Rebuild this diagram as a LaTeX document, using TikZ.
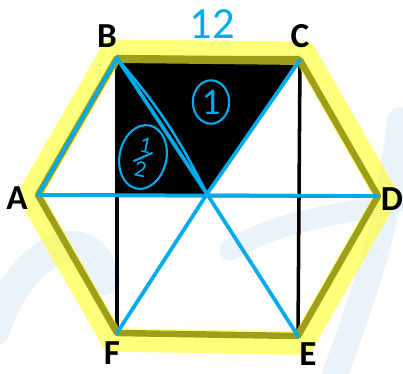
\documentclass[tikz,border=0pt]{standalone}
\usepackage{fontspec}
\setsansfont{Carlito}
\usetikzlibrary{calc,shapes.geometric}
\definecolor{pen}{RGB}{0,171,236}
\definecolor{hilite}{RGB}{255,255,40}
\definecolor{wash}{RGB}{234,243,250}
\tikzset{vlab/.style={font=\sffamily\bfseries\fontsize{30}{30}\selectfont},
  hand/.style={pen,font=\sffamily\fontsize{38}{38}\selectfont},
  ring/.style={draw=pen,ellipse,line width=1.8pt,inner sep=0pt}}

\begin{document}
\begin{tikzpicture}[x=0.03cm,y=-0.03cm,line join=round,line cap=round]
\useasboundingbox (0,0) rectangle (403,373);
% --- faint strokes in the background
\draw[wash,line width=26pt] (-5,330) .. controls (20,250) and (90,215) .. (105,280);
\draw[wash,line width=22pt] (330,390) .. controls (360,300) and (385,250) .. (400,120);
\draw[wash,line width=18pt] (230,250) .. controls (290,215) and (350,215) .. (403,200);
% --- corners of the hexagon
\coordinate (A) at (38,195);
\coordinate (B) at (117,58);
\coordinate (C) at (300,60);
\coordinate (D) at (378,196);
\coordinate (E) at (298,336);
\coordinate (F) at (117,333);
\coordinate (O) at (207,194);
\coordinate (P) at (117,194);
\foreach \v in {A,B,C,D,E,F} \coordinate (\v') at ($(O)!1.05!(\v)$);
% --- black piece
\fill (117,56) -- (300,56) -- (O) -- (P) -- cycle;
% --- black construction lines
\draw[line width=3pt] (B) -- (F) (C) -- (E) (A) -- (D);
\draw[line width=5.5pt] (A) -- (B) -- (C) -- (D) -- (E) -- (F) -- cycle;
% --- highlighter round the rim
\draw[hilite,opacity=0.62,line width=20pt] (A') -- (B') -- (C') -- (D') -- (E') -- (F') -- cycle;
% --- blue pen
\draw[pen,line width=3.2pt] (B) -- (A) -- (D);
\draw[pen,line width=3.2pt] (C) -- (O) -- (F) (O) -- (E) (B) -- (O);
\draw[pen,line width=2.2pt] (B) to[bend left=7] (O);
% --- labels
\node[vlab] (la) at (17,198) {A};
\node[vlab] (lb) at (107,36) {B};
\node[vlab] (lc) at (300,36) {C};
\node[vlab] (ld) at (392,199) {D};
\node[vlab] (le) at (308,354) {E};
\node[vlab] (lf) at (112,353) {F};
\node[hand] (twelve) at (212,24) {12};
\node[ring,pen,minimum width=31pt,minimum height=37pt,font=\sffamily\fontsize{32}{32}\selectfont] (one) at (211,102) {1};
\node[ring,pen,rotate=-12,minimum width=40pt,minimum height=55pt,align=center,font=\sffamily\fontsize{20}{20}\selectfont] (half) at (143,157) {1\\[1pt]2};
\draw[pen,line width=1.8pt] ($(half.center)+(-9,4)$) -- ($(half.center)+(9,-4)$);
\end{tikzpicture}
\end{document}
